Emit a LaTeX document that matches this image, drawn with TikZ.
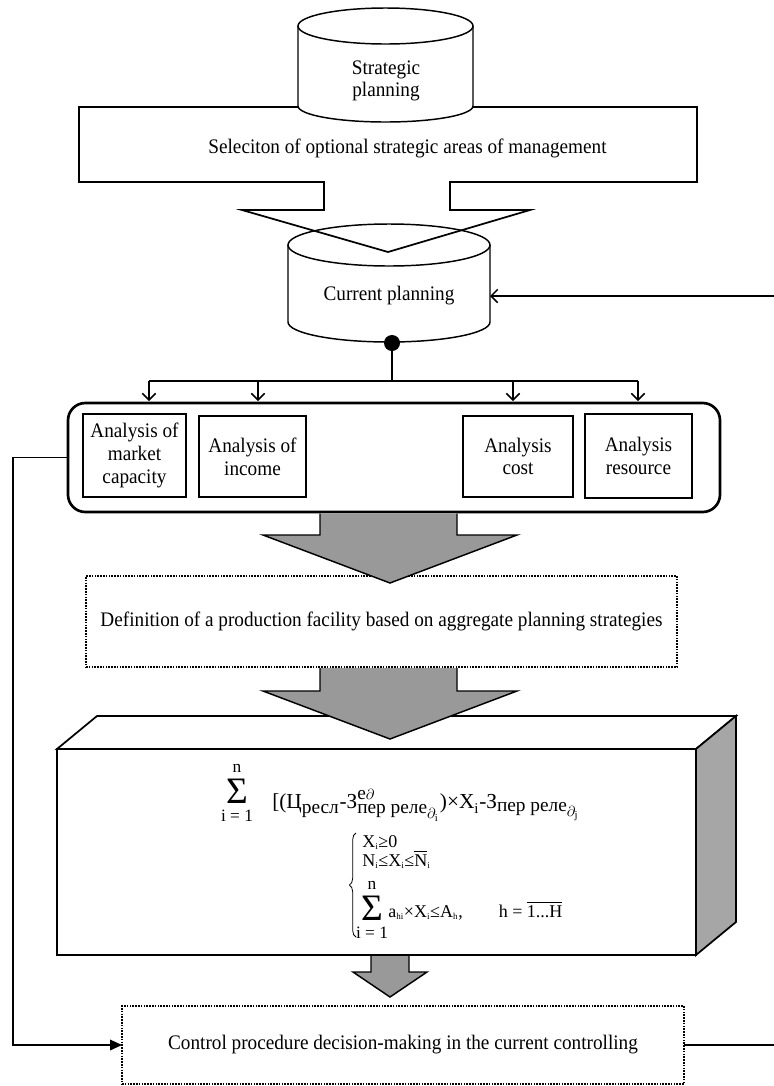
\documentclass[tikz,border=0pt]{standalone}
\usepackage{amsmath}
\usepackage{fontspec}
\setmainfont{Liberation Serif}
\newfontfamily\labelfont{Liberation Serif}[FakeStretch=0.93]
\usetikzlibrary{arrows.meta,positioning,decorations.pathreplacing}

\newcommand{\ix}[1]{$_{\scriptscriptstyle\text{#1}}$}
\newcommand{\sbs}[1]{\text{\fontsize{14.5}{14.5}\selectfont #1}}

\begin{document}
\begin{tikzpicture}[x=0.75pt, y=-0.75pt,
    outline/.style={line width=1.3pt},
    cyl/.style={line width=1.1pt, fill=white},
    link/.style={line width=1.1pt},
    barb/.style={-{Straight Barb[length=5pt,width=10pt,line width=1.1pt]}},
    txt/.style={font=\labelfont\fontsize{15.5}{17}\selectfont, inner sep=0pt, outer sep=0pt, align=center},
    anbox/.style={draw, line width=1.2pt, txt},
    dotbox/.style={draw, line width=1.4pt, dash pattern=on 1.2pt off 0.9pt, txt},
    arrowfill/.style={draw, line width=1.1pt, fill=black!40},
    sigma/.style={font=\fontsize{28}{28}\selectfont, inner sep=0pt},
    limtxt/.style={font=\fontsize{13}{13}\selectfont, inner sep=0pt},
    rowtxt/.style={font=\fontsize{13.5}{15}\selectfont, inner sep=0pt},
    formula/.style={font=\fontsize{16}{18}\selectfont, inner sep=0pt}]

    \useasboundingbox (0,0) rectangle (774,1086);

    % Current planning cylinder
    \draw[cyl] (288,245) -- (288,322) arc[start angle=180, end angle=0, x radius=101, y radius=20] -- (490,245);
    \draw[cyl] (389,245) ellipse[x radius=101, y radius=21];

    % Selection frame with its open arrow
    \draw[outline] (79,107) -- (697,107) -- (697,182) -- (450,182) -- (450,210) -- (530,210)
        -- (388,252) -- (242,210) -- (324,210) -- (324,182) -- (79,182) -- cycle;

    % Strategic planning cylinder
    \draw[cyl] (298,26) -- (298,106) arc[start angle=180, end angle=0, x radius=87.5, y radius=16] -- (473,26);
    \draw[cyl] (385.5,26) ellipse[x radius=87.5, y radius=18];

    % Labels of the top part
    \node[txt] (strat) at (386,81) {Strategic\\planning};
    \node[txt] (select) at (407.5,148) {Seleciton of optional strategic areas of management};
    \node[txt, minimum width=151.5pt] (cur) at (389,296) {Current planning};

    % Analysis block
    \node[draw, line width=2pt, rounded corners=13pt, minimum width=489pt, minimum height=81.75pt, outer sep=0pt] (analysis) at (394,457.5) {};
    \node[anbox, minimum width=77pt, minimum height=62pt] (market) at (134.5,455.5) {Analysis of\\market\\capacity};
    \node[anbox, minimum width=80pt, minimum height=61pt] (income) at (252.5,456.5) {Analysis of\\income};
    \node[anbox, minimum width=82.5pt, minimum height=61pt] (cost) at (518,456.5) {Analysis\\cost};
    \node[anbox, minimum width=80pt, minimum height=63pt] (resource) at (638.5,456) {Analysis\\resource};

    % Junction and fork
    \node[circle, fill, inner sep=0pt, minimum size=12pt] (joint) at (392,343) {};
    \coordinate (bus) at (392,381);
    \draw[link] (joint) -- (bus);
    \draw[link] (149,381) -- (638,381);
    \foreach \x in {149,258,513,638}{
        \coordinate (tap) at (\x,381);
        \draw[link, barb, shorten >=1.5pt] (tap) -- (tap |- analysis.north);
    }

    % Definition box
    \node[dotbox, minimum width=443.25pt, minimum height=68.25pt] (define) at (381.5,621.5) {Definition of a production facility based on aggregate planning strategies};

    % Model block
    \node[draw, outline, fill=white, minimum width=479.25pt, minimum height=154.5pt, inner sep=0pt, outer sep=0pt] (model) at (376.5,852) {};
    \draw[outline, fill=white] (model.north west) -- ++(40,-33) -- ++(639,0) -- (model.north east) -- cycle;
    \draw[outline, fill=black!35] (model.north east) -- ++(40,-33) -- ++(0,206) -- (model.south east) -- cycle;

    % Control box
    \node[dotbox, minimum width=421.5pt, minimum height=58.5pt] (control) at (403,1045) {Control procedure decision-making in the current controlling};

    % Gray arrows
    \filldraw[arrowfill] (320,513.5) -- (320,535) -- (263,535) -- (390,583) -- (517,535) -- (457,535) -- (457,513.5);
    \filldraw[arrowfill] (320,668) -- (320,691) -- (263,691) -- (390,739) -- (517,691) -- (457,691) -- (457,668);
    \filldraw[arrowfill] (371,956) -- (371,972) -- (353,972) -- (390,997) -- (427,972) -- (409,972) -- (409,956);

    % Objective
    \node[sigma] (sumA) at (237,791) {Σ};
    \node[limtxt, above=4pt of sumA] (sumAtop) {n};
    \node[limtxt, below=4.5pt of sumA] (sumAbot) {i = 1};
    \node[formula, anchor=base west] (goal) at (272,808) {$\text{[(Ц}_{\sbs{ресл}}\text{-З}^{\sbs{e}\partial}_{\sbs{пер реле}_{\scriptstyle\partial_{\text{i}}}}\text{)×X}_{\text{i}}\text{-З}_{\sbs{пер реле}_{\scriptstyle\partial_{\text{j}}}}$};

    % Constraints
    \draw[line width=0.6pt, decorate, decoration={brace, amplitude=5pt}] (356,937) -- (356,833);
    \node[rowtxt, anchor=base west] (rowA) at (362,847) {X\ix{i}≥0};
    \node[rowtxt, anchor=base west] (rowB) at (362,866) {N\ix{i}≤X\ix{i}≤$\overline{\text{N}}$\ix{i}};
    \node[sigma] (sumB) at (372,908) {Σ};
    \node[limtxt, above=4pt of sumB] (sumBtop) {n};
    \node[limtxt, below=4.5pt of sumB] (sumBbot) {i = 1};
    \node[rowtxt, anchor=base west] (rowC) at (388,917) {a\ix{hi}×X\ix{i}≤A\ix{h},\hspace{2em}h = $\overline{\text{1...H}}$};

    % Feedback lines
    \draw[link, -{Triangle[length=9pt,width=8pt]}] (analysis.west) -- ++(-55,0) |- (control.west);
    \draw[link, barb] (control.east) -- ++(95,0) |- (cur.east);

\end{tikzpicture}
\end{document}
